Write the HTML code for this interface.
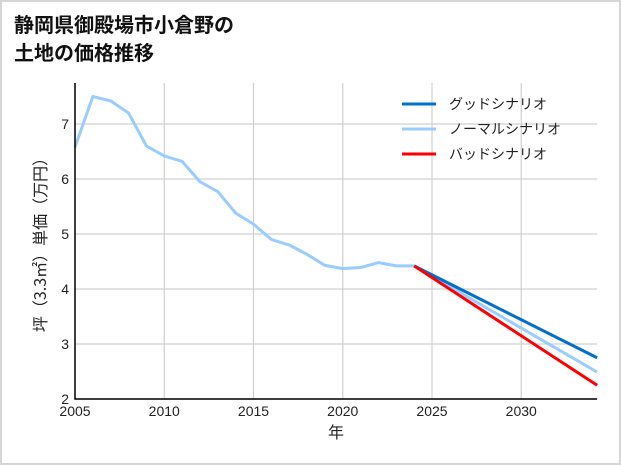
<!DOCTYPE html>
<html><head><meta charset="utf-8"><style>
body{margin:0;background:#fff}
#wrap{position:relative;width:617px;height:461px;border:2px solid #d6d6d6;background:#fff;font-family:"Liberation Sans","Noto Sans CJK JP",sans-serif}
</style></head><body>
<div id="wrap">
<svg id="chart" width="617" height="461" style="position:absolute;left:0;top:0">
<text x="12" y="30" font-size="20" font-weight="bold" fill="#111" font-family="'Noto Sans CJK JP',sans-serif">静岡県御殿場市小倉野の</text>
<text x="12" y="58" font-size="20" font-weight="bold" fill="#111" font-family="'Noto Sans CJK JP',sans-serif">土地の価格推移</text>
<g id="grid"></g><g id="lines"></g><g id="axes"></g>
</svg>
</div>
<script>
const years=[2005,2006,2007,2008,2009,2010,2011,2012,2013,2014,2015,2016,2017,2018,2019,2020,2021,2022,2023,2024];
const history=[6.58,7.5,7.42,7.2,6.6,6.42,6.32,5.95,5.77,5.38,5.18,4.9,4.8,4.63,4.43,4.37,4.39,4.48,4.42,4.42];
const scenarioYears=[2024,2034.25];
const goodValues=[4.42,2.75];
const normalValues=[4.42,2.49];
const badValues=[4.42,2.25];
const xTicks=[2005,2010,2015,2020,2025,2030];
const yTicks=[2,3,4,5,6,7];
const ox=-2,oy=-2;
const X=v=>75+ox+(v-2005)*17.85;
const Y=v=>399+oy-(v-2)*55;
const NS='http://www.w3.org/2000/svg';
function mk(tag,attrs,parent){const e=document.createElementNS(NS,tag);for(const k in attrs)e.setAttribute(k,attrs[k]);parent.appendChild(e);return e;}
const grid=document.getElementById('grid'),lines=document.getElementById('lines'),axes=document.getElementById('axes');
const x0=X(2005),x1=X(2034.25),yTop=83+oy,yBot=Y(2);
xTicks.forEach(t=>{
 const l=mk('line',{x1:X(t),x2:X(t),y1:yTop,y2:yBot,stroke:'#d0d0d0','stroke-width':1.2},grid);
 
 
 const tx=mk('text',{x:X(t),y:yBot+17,'font-size':14,'text-anchor':'middle',fill:'#222'},axes);
 tx.textContent=t;
 
 
});
yTicks.forEach(t=>{
 const l=mk('line',{x1:x0,x2:x1,y1:Y(t),y2:Y(t),stroke:'#d0d0d0','stroke-width':1.2},grid);
 
 
 const tx=mk('text',{x:x0-6,y:Y(t)+5,'font-size':14,'text-anchor':'end',fill:'#222'},axes);
 tx.textContent=t;
 
 
});
function path(xs,ys,color,name){
 const d=xs.map((v,i)=>(i?'L':'M')+X(v)+','+Y(ys[i])).join(' ');
 const p=mk('path',{d:d,fill:'none',stroke:color,'stroke-width':3,'stroke-linejoin':'round'},lines);
 
 
}
path(years,history,'#99ccff','history-line');
path(scenarioYears,normalValues,'#99ccff','normal-scenario-line');
path(scenarioYears,goodValues,'#0070cc','good-scenario-line');
path(scenarioYears,badValues,'#ff0000','bad-scenario-line');
const ax=mk('path',{d:`M${x0},${yTop} L${x0},${yBot} L${x1},${yBot}`,fill:'none',stroke:'#000','stroke-width':1.5},axes);


const xt=mk('text',{x:(x0+x1)/2,y:yBot+39,'font-size':16,'text-anchor':'middle',fill:'#222','font-family':"'Noto Sans CJK JP',sans-serif"},axes);
xt.textContent='年';


const yt=mk('text',{x:0,y:0,'font-size':16,'text-anchor':'middle',fill:'#222','font-family':"'Noto Sans CJK JP',sans-serif",transform:`translate(44,${(yTop+yBot)/2}) rotate(-90)`},axes);
yt.textContent='坪（3.3㎡）単価（万円）';


const leg=[['グッドシナリオ','#0070cc'],['ノーマルシナリオ','#99ccff'],['バッドシナリオ','#ff0000']];
leg.forEach((e,i)=>{
 const y=104+oy+i*25;
 const l=mk('line',{x1:402+ox,x2:436+ox,y1:y,y2:y,stroke:e[1],'stroke-width':3},axes);
 
 
 const t=mk('text',{x:449+ox,y:y+5,'font-size':14,fill:'#222','font-family':"'Noto Sans CJK JP',sans-serif"},axes);
 t.textContent=e[0];
 
 
});
</script>
</body></html>
